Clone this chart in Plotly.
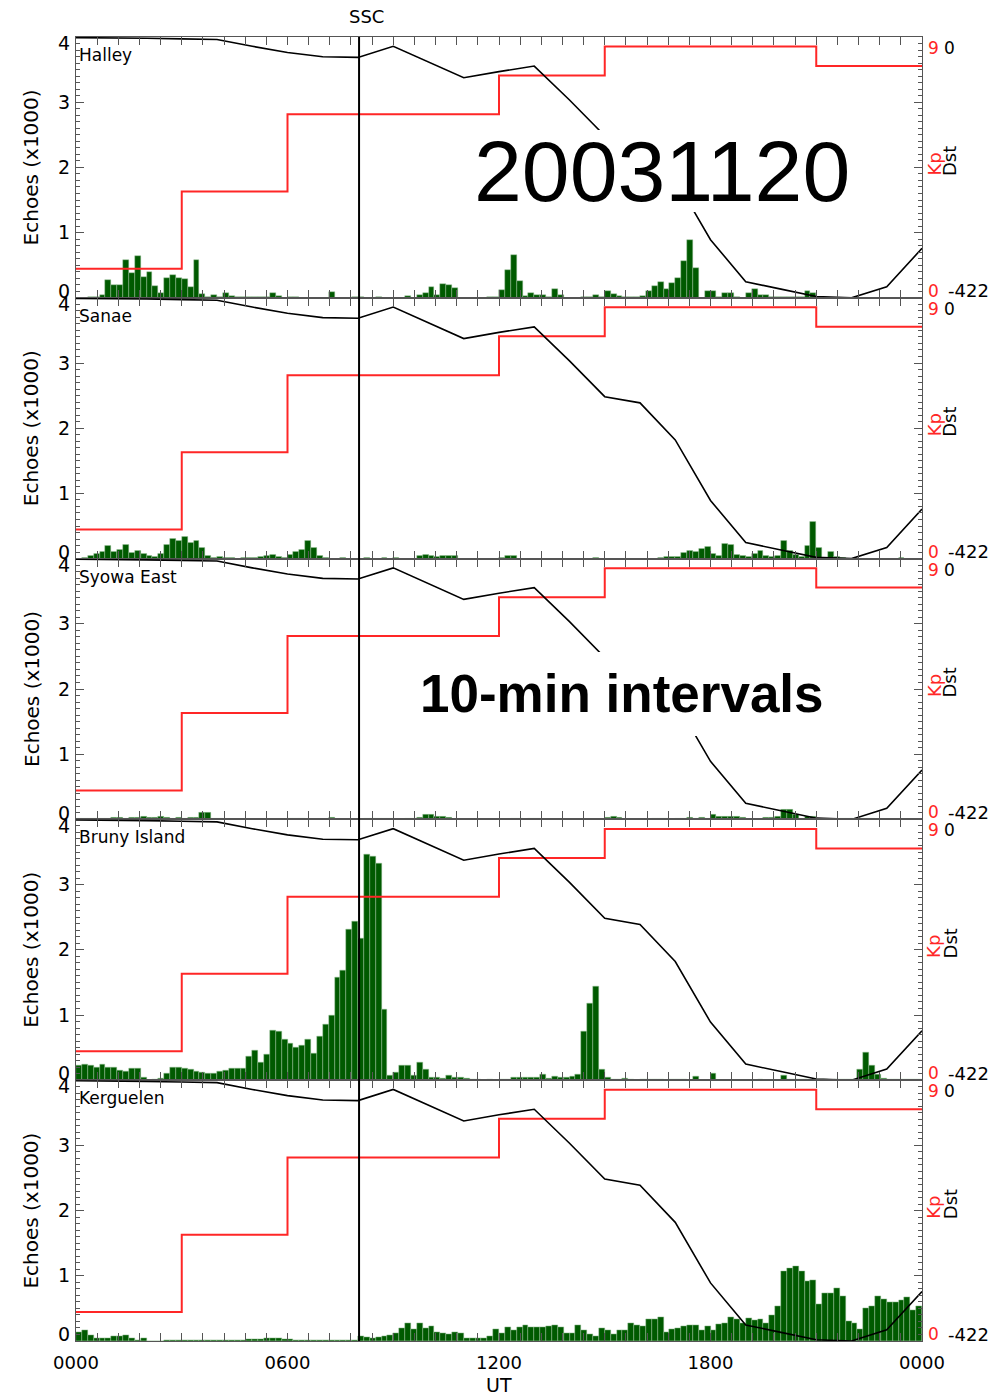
import plotly.graph_objects as go

# ---------------- data ----------------
stations = ["Halley", "Sanae", "Syowa East", "Bruny Island", "Kerguelen"]

# echoes (x1000) in 10-min bins, 144 per day
halley = [0, 0, 0.01, 0.02, 0.05, 0.28, 0.2, 0.2, 0.58, 0.38,
          0.64, 0.32, 0.39, 0.18, 0.08, 0.3, 0.35, 0.31, 0.29, 0.17,
          0.58, 0.06, 0.02, 0.05, 0.01, 0.08, 0.03, 0.01, 0.01, 0.01,
          0.01, 0.01, 0.01, 0.08, 0.03, 0, 0.01, 0.02, 0, 0,
          0, 0, 0, 0.09, 0, 0, 0, 0.02, 0.01, 0,
          0, 0.02, 0, 0, 0, 0, 0.03, 0, 0.04, 0.08,
          0.17, 0.05, 0.21, 0.2, 0.15, 0, 0, 0, 0, 0,
          0.01, 0.02, 0.12, 0.43, 0.66, 0.26, 0.03, 0.08, 0.05, 0.04,
          0.02, 0.13, 0.04, 0, 0, 0, 0.01, 0.02, 0.05, 0.01,
          0.1, 0.06, 0.03, 0.02, 0.02, 0.02, 0.03, 0.1, 0.18, 0.25,
          0.13, 0.22, 0.31, 0.57, 0.89, 0.46, 0, 0.1, 0.1, 0.01,
          0.08, 0.08, 0.01, 0, 0.07, 0.13, 0.05, 0.05, 0.02, 0.01,
          0.01, 0.01, 0.01, 0.02, 0.1, 0.07, 0.02, 0, 0, 0,
          0, 0, 0, 0, 0, 0, 0, 0, 0, 0,
          0, 0, 0, 0]
sanae = [0, 0.02, 0.05, 0.07, 0.11, 0.19, 0.1, 0.13, 0.21, 0.09,
         0.12, 0.07, 0.04, 0.03, 0.07, 0.21, 0.31, 0.28, 0.33, 0.24,
         0.28, 0.16, 0.05, 0.02, 0.03, 0.01, 0.01, 0, 0.01, 0.01,
         0.01, 0.03, 0.05, 0.06, 0.03, 0.01, 0.06, 0.1, 0.13, 0.27,
         0.16, 0.05, 0.01, 0, 0, 0.01, 0, 0, 0, 0.01,
         0, 0, 0.02, 0, 0.02, 0, 0, 0, 0.05, 0.06,
         0.05, 0.03, 0.04, 0.04, 0.04, 0, 0, 0, 0, 0,
         0, 0, 0.02, 0.05, 0.04, 0, 0, 0, 0, 0,
         0, 0, 0, 0, 0, 0, 0, 0, 0.01, 0,
         0, 0, 0, 0, 0, 0, 0, 0, 0, 0.02,
         0.03, 0.03, 0.03, 0.09, 0.12, 0.1, 0.15, 0.18, 0.08, 0.05,
         0.23, 0.21, 0.06, 0.05, 0.03, 0.08, 0.12, 0.05, 0.03, 0.05,
         0.27, 0.12, 0.06, 0.03, 0.19, 0.56, 0.16, 0.02, 0.11, 0.03,
         0.01, 0, 0, 0, 0, 0, 0, 0, 0, 0,
         0.01, 0, 0, 0]
syowa_east = [0.01, 0.01, 0.01, 0.01, 0.01, 0.02, 0.03, 0.03, 0.02, 0.03,
              0.03, 0.04, 0.03, 0.03, 0.04, 0.03, 0.02, 0.03, 0.02, 0.03,
              0.03, 0.1, 0.1, 0.02, 0.01, 0, 0, 0, 0, 0,
              0, 0, 0, 0, 0, 0, 0.01, 0.01, 0.01, 0,
              0, 0, 0, 0.03, 0, 0, 0, 0, 0, 0.02,
              0.02, 0.02, 0.02, 0.02, 0, 0, 0.02, 0.02, 0.03, 0.08,
              0.08, 0.04, 0.05, 0.03, 0, 0, 0, 0, 0, 0,
              0, 0, 0, 0, 0.02, 0.02, 0, 0.02, 0.02, 0,
              0, 0, 0, 0, 0, 0, 0, 0, 0, 0,
              0.03, 0.05, 0.03, 0, 0, 0, 0, 0, 0.01, 0.01,
              0.01, 0, 0.02, 0.02, 0.03, 0.02, 0.03, 0.02, 0.08, 0.04,
              0.04, 0.04, 0.04, 0.03, 0, 0, 0, 0.03, 0.03, 0.05,
              0.15, 0.15, 0.08, 0, 0.05, 0.05, 0, 0, 0, 0,
              0.01, 0.01, 0.01, 0.01, 0.01, 0.01, 0, 0, 0, 0,
              0, 0, 0, 0]
bruny_island = [0.23, 0.24, 0.23, 0.2, 0.24, 0.2, 0.19, 0.15, 0.13, 0.18,
                0.18, 0.05, 0, 0.01, 0.03, 0.1, 0.2, 0.2, 0.18, 0.16,
                0.14, 0.12, 0.1, 0.1, 0.14, 0.15, 0.18, 0.18, 0.18, 0.37,
                0.45, 0.27, 0.39, 0.77, 0.75, 0.62, 0.56, 0.51, 0.54, 0.62,
                0.41, 0.67, 0.86, 0.99, 1.57, 1.69, 2.31, 2.43, 2.18, 3.46,
                3.43, 3.33, 1.09, 0.08, 0.12, 0.22, 0.23, 0.08, 0.28, 0.17,
                0.04, 0.04, 0.03, 0.08, 0.05, 0.05, 0.03, 0.01, 0.01, 0,
                0.01, 0, 0.01, 0.02, 0.04, 0.04, 0.04, 0.04, 0.04, 0.09,
                0.03, 0.06, 0.04, 0.05, 0.06, 0.09, 0.75, 1.18, 1.44, 0.16,
                0.05, 0.02, 0.01, 0.03, 0.01, 0, 0.02, 0.02, 0.02, 0.02,
                0, 0.01, 0.01, 0.01, 0, 0.06, 0, 0, 0.1, 0,
                0, 0, 0, 0, 0, 0, 0.01, 0, 0, 0,
                0.07, 0.01, 0.01, 0.01, 0.01, 0.01, 0.01, 0.01, 0, 0.01,
                0.02, 0.02, 0.02, 0.17, 0.42, 0.22, 0.09, 0.03, 0.01, 0.01,
                0.01, 0.01, 0.01, 0.01]
kerguelen = [0.13, 0.16, 0.09, 0.04, 0.05, 0.05, 0.07, 0.07, 0.09, 0.04,
             0.02, 0.05, 0, 0, 0, 0.005, 0.005, 0.005, 0.005, 0.005,
             0.005, 0.005, 0.005, 0.005, 0.005, 0.005, 0.01, 0.01, 0.01, 0.03,
             0.03, 0.03, 0.04, 0.04, 0.04, 0.03, 0.03, 0.02, 0.005, 0.005,
             0.005, 0.005, 0.02, 0.02, 0.02, 0.01, 0.01, 0.02, 0.08, 0.06,
             0.04, 0.06, 0.08, 0.09, 0.12, 0.19, 0.27, 0.18, 0.27, 0.19,
             0.22, 0.13, 0.12, 0.1, 0.14, 0.12, 0.05, 0.05, 0.05, 0.05,
             0.07, 0.18, 0.12, 0.21, 0.17, 0.21, 0.25, 0.21, 0.21, 0.21,
             0.23, 0.24, 0.21, 0.12, 0.12, 0.24, 0.16, 0.1, 0.07, 0.19,
             0.16, 0.11, 0.16, 0.16, 0.28, 0.25, 0.22, 0.33, 0.33, 0.36,
             0.14, 0.18, 0.19, 0.23, 0.25, 0.25, 0.17, 0.22, 0.17, 0.26,
             0.27, 0.36, 0.33, 0.28, 0.35, 0.32, 0.34, 0.28, 0.4, 0.54,
             1.07, 1.12, 1.15, 1.07, 0.91, 0.94, 0.56, 0.74, 0.73, 0.81,
             0.68, 0.3, 0.28, 0.18, 0.51, 0.53, 0.68, 0.64, 0.6, 0.6,
             0.63, 0.67, 0.48, 0.53]
echoes = [halley, sanae, syowa_east, bruny_island, kerguelen]
bin_hours = [(i + 0.5) / 6 for i in range(144)]

# hourly Dst (nT), hours 0..24
dst_hours = list(range(25))
dst = [-1, -1, -2, -3, -4, -15, -25, -32, -33, -15,
       -40, -66, -56, -47, -102, -160, -170, -230, -328, -396,
       -408, -420, -422, -404, -342]

# 3-hourly Kp
kp_start = [0, 3, 6, 9, 12, 15, 18, 21]
kp = [1.0, 3.67, 6.33, 6.33, 7.67, 8.67, 8.67, 8.0]

ssc_time = 8.03
x_tickvals = [0, 6, 12, 18, 24]
x_ticktext = ["0000", "0600", "1200", "1800", "0000"]
y_tickvals = [0, 1, 2, 3, 4]

# ---------------- figure ----------------
W, H = 997, 1399
L, R, T, B = 76, 75, 37, 58
PW, PH = W - L - R, H - T - B
AX = "#555555"
FS = "DejaVu Sans"
FB = "Liberation Sans"
RED = "#ff2626"


def px_x(px):
    return (px - L) / PW


def px_y(py):
    return (H - B - py) / PH


n = len(stations)
fig = go.Figure()
layout = {}
annotations = []
shapes = []

for k in range(n):
    i = k + 1
    xa = "x" if i == 1 else f"x{i}"
    ya = "y" if i == 1 else f"y{i}"
    ykp, ydst, ylab = f"y{i + 5}", f"y{i + 10}", f"y{i + 15}"
    xkey = "xaxis" if i == 1 else f"xaxis{i}"
    ykey = "yaxis" if i == 1 else f"yaxis{i}"

    fig.add_trace(go.Bar(x=bin_hours, y=echoes[k], width=1 / 6,
                         marker=dict(color="#005a00",
                                     line=dict(color="rgba(160,200,160,0.9)", width=0.5)),
                         xaxis=xa, yaxis=ya, showlegend=False, hoverinfo="skip"))
    fig.add_trace(go.Scatter(x=[], y=[], xaxis=xa, yaxis=ylab, showlegend=False,
                             hoverinfo="skip"))
    fig.add_trace(go.Scatter(x=kp_start + [24], y=kp + [kp[-1]], mode="lines",
                             line=dict(color=RED, width=2, shape="hv"),
                             xaxis=xa, yaxis=ykp, showlegend=False, hoverinfo="skip"))
    fig.add_trace(go.Scatter(x=dst_hours, y=dst, mode="lines",
                             line=dict(color="black", width=1.6),
                             xaxis=xa, yaxis=ydst, showlegend=False, hoverinfo="skip"))

    dom = [1 - (k + 1) / n, 1 - k / n]
    layout[xkey] = dict(
        domain=[0, 1], anchor=ya, range=[0, 24], tickmode="array",
        tickvals=x_tickvals, ticktext=x_ticktext, ticks="inside", ticklen=8,
        tickcolor=AX, tickwidth=1,
        minor=dict(tickmode="linear", tick0=0, dtick=0.6, ticks="inside",
                   ticklen=4, tickcolor=AX, tickwidth=1),
        showline=True, linecolor=AX, linewidth=1, mirror="allticks",
        showgrid=False, zeroline=False, showticklabels=(i == n),
        tickfont=dict(family=FS, size=18, color="black"),
        ticklabelstandoff=5, automargin=False, fixedrange=True)
    layout[ykey] = dict(
        domain=dom, anchor=xa, range=[0, 4], tickmode="array",
        tickvals=y_tickvals, showticklabels=False, ticks="inside", ticklen=8,
        tickcolor=AX, tickwidth=1,
        minor=dict(tickmode="linear", tick0=0, dtick=0.1, ticks="inside",
                   ticklen=4, tickcolor=AX, tickwidth=1),
        showline=True, linecolor=AX, linewidth=1, mirror="allticks",
        showgrid=False, zeroline=False, automargin=False,
        title=dict(text="Echoes (x1000)", standoff=30,
                   font=dict(family=FS, size=20, color="black")))
    layout[f"yaxis{i + 15}"] = dict(
        overlaying=ya, anchor=xa, side="left", range=[0, 4], tickmode="array",
        tickvals=[0.1, 1, 2, 3, 3.9], ticktext=["0", "1", "2", "3", "4"],
        ticks="", showline=False, showgrid=False, zeroline=False,
        tickfont=dict(family=FS, size=19, color="black"),
        ticklabelstandoff=5, automargin=False)
    layout[f"yaxis{i + 5}"] = dict(overlaying=ya, anchor=xa, range=[0, 9],
                                   visible=False, showgrid=False, zeroline=False)
    layout[f"yaxis{i + 10}"] = dict(overlaying=ya, anchor=xa, range=[-422, 0],
                                    visible=False, showgrid=False, zeroline=False)

    top = T + k * PH / n
    bot = T + (k + 1) * PH / n
    # station name
    annotations.append(dict(text=stations[k], xref="paper", yref="paper",
                            x=px_x(77), y=px_y(top + 18), xanchor="left",
                            yanchor="middle", showarrow=False,
                            font=dict(family=FS, size=17, color="black")))
    # right-hand scale labels
    annotations.append(dict(text="9", xref="paper", yref="paper", x=px_x(933),
                            y=px_y(top + 11), xanchor="center", yanchor="middle",
                            showarrow=False, font=dict(family=FS, size=17, color=RED)))
    annotations.append(dict(text="0", xref="paper", yref="paper", x=px_x(949),
                            y=px_y(top + 11), xanchor="center", yanchor="middle",
                            showarrow=False, font=dict(family=FS, size=17, color="black")))
    annotations.append(dict(text="0", xref="paper", yref="paper", x=px_x(933),
                            y=px_y(bot - 7), xanchor="center", yanchor="middle",
                            showarrow=False, font=dict(family=FS, size=17, color=RED)))
    annotations.append(dict(text="-422", xref="paper", yref="paper", x=px_x(946),
                            y=px_y(bot - 7), xanchor="left", yanchor="middle",
                            showarrow=False, font=dict(family=FS, size=18, color="black")))
    annotations.append(dict(text="Kp", xref="paper", yref="paper", x=px_x(934),
                            y=px_y(top + 141), xanchor="center", yanchor="bottom",
                            textangle=-90, showarrow=False,
                            font=dict(family=FS, size=18, color=RED)))
    annotations.append(dict(text="Dst", xref="paper", yref="paper", x=px_x(950),
                            y=px_y(top + 141), xanchor="center", yanchor="bottom",
                            textangle=-90, showarrow=False,
                            font=dict(family=FS, size=18, color="black")))

# SSC line across all panels
shapes.append(dict(type="line", xref="x", yref="paper", x0=ssc_time, x1=ssc_time,
                   y0=0, y1=1, line=dict(color="black", width=2), layer="above"))
annotations.append(dict(text="SSC", xref="x", yref="paper", x=ssc_time, y=1,
                        xshift=7, yshift=8, xanchor="center", yanchor="bottom",
                        showarrow=False, font=dict(family=FS, size=18, color="black")))

# white boxes behind the big labels
shapes.append(dict(type="rect", xref="paper", yref="paper", x0=px_x(462), x1=px_x(876),
                   y0=px_y(212), y1=px_y(130), fillcolor="white", line=dict(width=0),
                   layer="above"))
shapes.append(dict(type="rect", xref="paper", yref="paper", x0=px_x(400), x1=px_x(886),
                   y0=px_y(736), y1=px_y(652), fillcolor="white", line=dict(width=0),
                   layer="above"))
annotations.append(dict(text="20031120", xref="paper", yref="paper", x=px_x(662),
                        y=px_y(171), xanchor="center", yanchor="middle", showarrow=False,
                        font=dict(family=FB, size=86, color="black")))
annotations.append(dict(text="<b>10-min intervals</b>", xref="paper", yref="paper",
                        x=px_x(622), y=px_y(694), xanchor="center", yanchor="middle",
                        showarrow=False, font=dict(family=FB, size=53, color="black")))
annotations.append(dict(text="UT", xref="paper", yref="paper", x=px_x(499),
                        y=px_y(1385), xanchor="center", yanchor="middle", showarrow=False,
                        font=dict(family=FS, size=19, color="black")))

fig.update_layout(
    width=W, height=H, template="none",
    margin=dict(l=L, r=R, t=T, b=B, pad=0),
    paper_bgcolor="white", plot_bgcolor="white",
    bargap=0, barmode="overlay", showlegend=False,
    font=dict(family=FS, size=17, color="black"),
    annotations=annotations, shapes=shapes,
    **layout)

fig.write_html("out.html", config={"displayModeBar": False},
               post_script="document.body.style.margin='0px';document.body.style.padding='0px';")
